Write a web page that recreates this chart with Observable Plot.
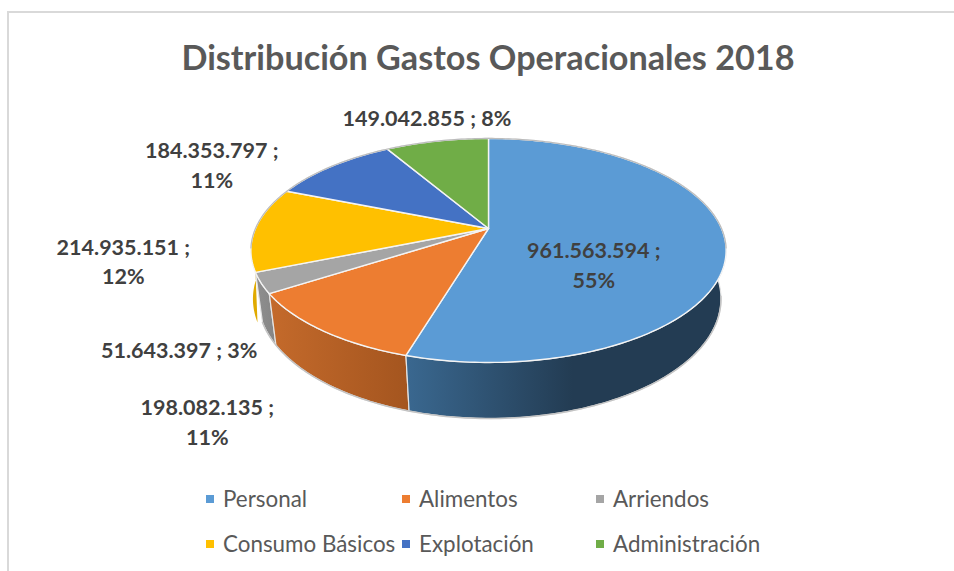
<!DOCTYPE html>
<html>
<head>
<meta charset="utf-8">
<script src="https://cdn.jsdelivr.net/npm/d3@7"></script>
<script src="https://cdn.jsdelivr.net/npm/@observablehq/plot@0.6"></script>
<style>
  html,body{margin:0;padding:0;background:#fff;}
  body{position:relative;width:954px;height:571px;overflow:hidden;font-family:Lato,sans-serif;}
  #frame{position:absolute;left:7px;top:11px;right:-5px;bottom:-5px;border-left:2px solid #d9d9d9;border-top:2px solid #d9d9d9;}
  h1{position:relative;margin:0;height:90px;line-height:113px;text-align:center;font-size:34.2px;font-weight:700;color:#595959;padding-left:22px;box-sizing:border-box;}
  svg{display:block;position:relative;background:transparent !important;}
  #legend{position:relative;height:101px;color:#595959;font-size:22.4px;}
  .k{position:absolute;white-space:nowrap;line-height:26px;}
  .k i{position:absolute;left:-17px;top:9px;width:8px;height:8px;}
</style>
</head>
<body>
<div id="frame"></div>
<h1>Distribución Gastos Operacionales 2018</h1>
<div id="chart"></div>
<div id="legend"></div>
<script>
const categories = ["Personal","Alimentos","Arriendos","Consumo Básicos","Explotación","Administración"];
const values = [961563594,198082135,51643397,214935151,184353797,149042855];
const percentLabels = ["55%","11%","3%","12%","11%","8%"];
const topColors = ["#5b9bd5","#ed7d31","#a5a5a5","#ffc000","#4472c4","#70ad47"];
const sideFrom = ["#3a6890","#c46a2b","#8f8f8f","#e0aa00","#34588f","#548235"];
const sideTo   = ["#233c53","#a4551f","#858585","#e0aa00","#34588f","#548235"];
const sideStop = [0.52,1,1,1,1,1];
const labelBreak = [true,true,false,true,true,false];
const labelDx = [-132,-115,-82,-132,-120,-10];
const labelDy = [19,90,65,31,-3,-25];
const legendX = [223,419,613];
const legendY = [486,531];

const W = 954, H = 380, TOP = 90;
const persp = 0.196;
const upper = {cx:488,cy:228,k:107.7,a:233};
const lower = {cx:489,cy:275,k:115,a:227};
const lowerLeft = {cx:488,cy:275,k:115,a:231};
const project = (deg, d) => {
  const t = deg*Math.PI/180, sx = Math.sin(t), cy = Math.cos(t), w = 1+persp*cy;
  return {x:d.cx+d.a*sx/w, y:d.cy-d.k*cy/w};
};
const total = d3.sum(values);
let acc = 0;
const slices = values.map((v,i)=>{
  const a0 = acc/total*360; acc += v; const a1 = acc/total*360;
  return {i,a0,a1,mid:(a0+a1)/2};
});
const arc = (s,d) => {
  const n = Math.max(2,Math.ceil(s.a1-s.a0)), out=[];
  for(let j=0;j<=n;j++) out.push(project(s.a0+(s.a1-s.a0)*j/n,d));
  return out;
};
const wedge = s => [{x:upper.cx,y:upper.cy},...arc(s,upper)];
const wall = (s,d=lower) => [...arc(s,upper),...arc(s,d).reverse()];
// outline of the whole solid: back rim of the top face and front rim of the bottom face
const backRim = [...arc({a0:-100,a1:100},upper)];
const frontRim = [...arc({a0:100,a1:slices[3].a0},lower)];

const fmt = d3.formatLocale({decimal:",",thousands:".",grouping:[3],currency:["",""]}).format(",d");
const defs = () => {
  const s = d3.create("svg:defs");
  slices.forEach(sl=>{
    const g = s.append("linearGradient").attr("id","side"+sl.i);
    g.append("stop").attr("offset",0).attr("stop-color",sideFrom[sl.i]);
    g.append("stop").attr("offset",sideStop[sl.i]).attr("stop-color",sideTo[sl.i]);
  });
  return s.node();
};
const fp = {x:"x",y:"y",curve:"linear-closed"};
const marks = [defs];
// walls, back to front
[3,4,5,2,1,0].forEach(i=>{
  marks.push(Plot.line(wall(slices[i],i===3?lowerLeft:lower),{...fp,fill:`url(#side${i})`,stroke:i===3?"none":"#e4e4e4",strokeWidth:1.2}));
});
marks.push(Plot.line(frontRim,{x:"x",y:"y",stroke:"#c4c4c4",strokeWidth:1.5}));
// top face
slices.forEach(s=>{
  marks.push(Plot.line(wedge(s),{...fp,fill:topColors[s.i],stroke:"#f4f4f4",strokeWidth:1.4}));
});
marks.push(Plot.line(backRim,{x:"x",y:"y",stroke:"#bcbcbc",strokeWidth:1.2}));
// data labels
slices.forEach(s=>{
  const rim = project(s.mid,upper);
  const text = fmt(values[s.i])+" ;"+(labelBreak[s.i]?"\n":" ")+percentLabels[s.i];
  marks.push(Plot.text([{...rim,text}],{x:"x",y:"y",text:"text",dx:labelDx[s.i],dy:labelDy[s.i],
    fontFamily:"Lato,sans-serif",fontWeight:700,fontSize:21.5,fill:"#404040",lineHeight:1.38,lineAnchor:"middle",textAnchor:"middle"}));
});
const plot = Plot.plot({
  width:W,height:H,margin:0,
  x:{domain:[0,W],range:[0,W],axis:null},
  y:{domain:[TOP,TOP+H],range:[0,H],axis:null},
  marks
});
document.getElementById("chart").append(plot);
const lg = document.getElementById("legend");
categories.forEach((c,i)=>{
  const el = document.createElement("div");
  el.className="k";
  el.style.left=legendX[i%3]+"px";
  el.style.top=(legendY[Math.floor(i/3)]-470)+"px";
  el.innerHTML=`<i style="background:${topColors[i]}"></i>${c}`;
  lg.append(el);
});
</script>
</body>
</html>
